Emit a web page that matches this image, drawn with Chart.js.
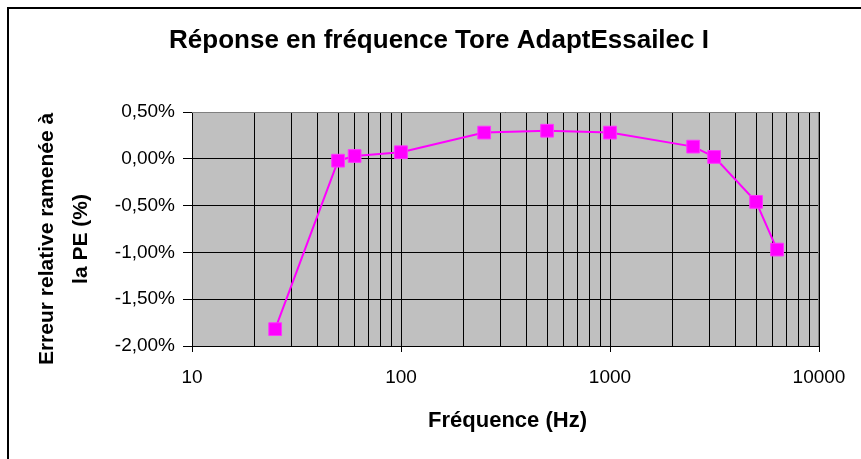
<!DOCTYPE html>
<html>
<head>
<meta charset="utf-8">
<script src="https://cdn.jsdelivr.net/npm/chart.js@4"></script>
<style>
html, body { margin: 0; padding: 0; background: #fff; }
#wrap { position: relative; width: 861px; height: 459px; overflow: hidden; }
#frame { position: absolute; left: 7px; top: 7px; width: 900px; height: 500px; border-top: 2px solid #000; border-left: 2px solid #000; }
canvas { position: absolute; left: 0; top: 0; }
</style>
</head>
<body>
<div id="wrap">
	<div id="frame"></div>
	<canvas id="freqChart" width="861" height="459"></canvas>
</div>
<script>
// Chart texts
const chartTitle = 'Réponse en fréquence Tore AdaptEssailec I';
const xTitle = 'Fréquence (Hz)';
const yTitle = ['Erreur relative ramenée à', 'la PE (%)'];

// Measured points: frequency (Hz) and relative error (%)
const freqs = [25, 50, 60, 100, 250, 500, 1000, 2500, 3150, 5000, 6300];
const errors = [-1.82, -0.02, 0.03, 0.07, 0.28, 0.30, 0.28, 0.13, 0.02, -0.46, -0.97];

// Axis ticks
const yTicks = [0.5, 0, -0.5, -1, -1.5, -2];
const xDecades = [10, 100, 1000, 10000];

const FONT = '"Liberation Sans", Arial, sans-serif';

// Gray plot background + light frame on top/right, then the texts
const plotFrame = {
	id: 'plotFrame',
	beforeDraw(chart) {
		const { ctx, chartArea: a } = chart;
		ctx.save();
		ctx.fillStyle = '#C0C0C0';
		ctx.fillRect(a.left, a.top, a.right - a.left, a.bottom - a.top);
		ctx.restore();
	},
	afterDraw(chart) {
		const { ctx, chartArea: a } = chart;
		ctx.save();
		ctx.strokeStyle = '#808080';
		ctx.lineWidth = 1;
		ctx.beginPath();
		ctx.moveTo(a.left, a.top + 0.5);
		ctx.lineTo(a.right - 0.5, a.top + 0.5);
		ctx.lineTo(a.right - 0.5, a.bottom);
		ctx.stroke();

		ctx.fillStyle = '#000';
		ctx.textAlign = 'center';
		ctx.textBaseline = 'middle';
		ctx.font = 'bold 26px ' + FONT;
		ctx.fillText(chartTitle, 439, 41);
		ctx.font = 'bold 22px ' + FONT;
		ctx.fillText(xTitle, (a.left + a.right) / 2 + 2, 421);
		ctx.translate(47, (a.top + a.bottom) / 2 + 10);
		ctx.rotate(-Math.PI / 2);
		ctx.font = 'bold 21px ' + FONT;
		ctx.fillText(yTitle[0], 0, 0);
		ctx.fillText(yTitle[1], 0, 34);
		ctx.restore();
	}
};

const ctx = document.getElementById('freqChart').getContext('2d');
new Chart(ctx, {
	type: 'scatter',
	data: {
		datasets: [{
			label: 'Erreur',
			data: freqs.map((f, i) => ({ x: f, y: errors[i] })),
			showLine: true,
			borderColor: '#FF00FF',
			borderWidth: 2,
			backgroundColor: '#FF00FF',
			pointStyle: 'rect',
			pointRadius: 9,
			pointHoverRadius: 9,
			pointBorderWidth: 1,
			pointBorderColor: '#FF33FF',
		}]
	},
	options: {
		responsive: false,
		animation: false,
		layout: { padding: { top: 112, right: 42, left: 0, bottom: 0 } },
		plugins: { legend: { display: false }, tooltip: { enabled: false } },
		scales: {
			x: {
				type: 'logarithmic',
				min: 10,
				max: 10000,
				afterBuildTicks(scale) {
					const ticks = [];
					for (let d = 10; d < 10000; d *= 10) {
						for (let m = 1; m < 10; m++) ticks.push({ value: m * d, major: m === 1 });
					}
					ticks.push({ value: 10000, major: true });
					scale.ticks = ticks;
				},
				afterFit(scale) { scale.height = 113; },
				border: { color: '#000', width: 1 },
				grid: {
					color: '#000',
					lineWidth: 1,
					tickLength: 6,
					tickColor: c => xDecades.includes(c.tick.value) ? '#000' : 'rgba(0,0,0,0)'
				},
				ticks: {
					autoSkip: false,
					maxRotation: 0,
					padding: 14,
					color: '#000',
					font: { family: FONT, size: 19 },
					callback: v => xDecades.includes(v) ? String(v) : ''
				}
			},
			y: {
				min: -2,
				max: 0.5,
				afterBuildTicks(scale) { scale.ticks = yTicks.map(v => ({ value: v })); },
				afterFit(scale) { scale.width = 192; },
				border: { color: '#000', width: 1 },
				grid: { color: '#000', lineWidth: 1, tickLength: 9, tickColor: '#000' },
				ticks: {
					padding: 8,
					color: '#000',
					font: { family: FONT, size: 19 },
					callback: v => (Math.abs(v) < 1e-9 ? 0 : v).toFixed(2).replace('.', ',') + '%'
				}
			}
		}
	},
	plugins: [plotFrame]
});
</script>
</body>
</html>
